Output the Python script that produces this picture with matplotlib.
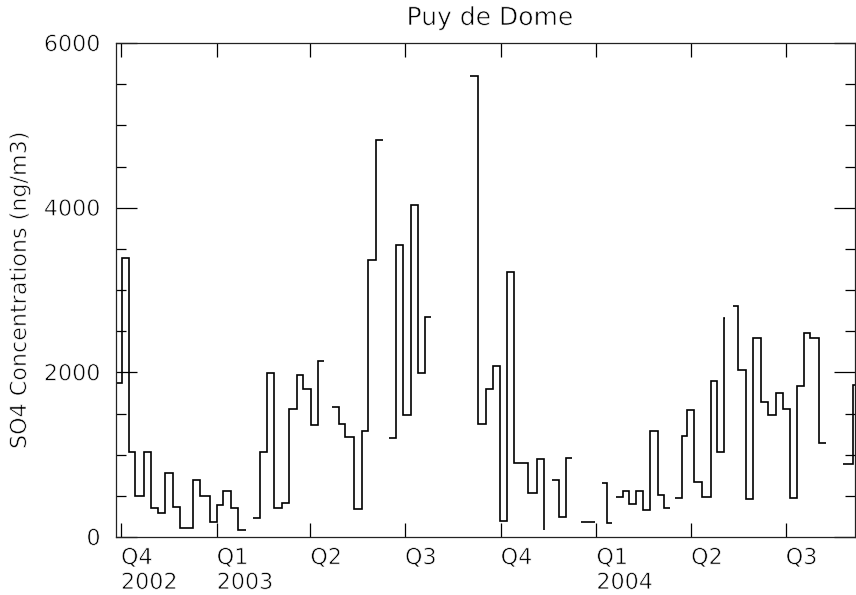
import numpy as np
import pandas as pd
import matplotlib
matplotlib.use('Agg')
import matplotlib.pyplot as plt
import matplotlib.patheffects as pe
from matplotlib.ticker import MultipleLocator

# sample start dates as days after 1 Oct 2002, nan = no data
t0 = pd.Timestamp('2002-10-01')
sample_day = [-6.3, 0.7, 7.7, 13.9, 22.1, 28.6, 35.9, 42.3, 49.7, 56.7, 68.9, 75.9,
              85.5, 92.6, 98.3, 105.5, 112.8, 119.9,
              127.2, 133.6, 140.1, 147.1, 154.5, 161.8, 168.9, 175.3, 182.4, 189.7, 195.4,
              203.1, 209.9, 215.8, 224.0, 231.4, 237.7, 245.1, 251.6,
              257.9, 264.4, 271.4, 278.5, 285.2, 292.3, 297.7,
              335.5, 342.9, 350.6, 357.3, 364.4, 371.4, 377.8, 391.6, 399.6, 406.7, 407.1,
              414.6, 421.1, 427.5, 433.9,
              441.9, 455.7,
              462.1, 466.9, 471.7,
              475.6, 482.9, 488.7, 494.8, 502.1, 508.6, 516.6, 522.0, 527.8,
              532.6, 539.0, 543.8, 550.9, 558.3, 566.9, 572.7, 579.7, 580.2,
              588.1, 593.4, 600.8, 607.9, 614.9, 622.3, 629.4, 636.1, 643.1, 649.6,
              656.9, 662.4, 671.3, 677.8,
              694.4, 704.0]
last_day = 712.0

so4 = [1866, 3390, 1028, 500, 1035, 357, 297, 777, 370, 114, 691, 500,
       187, 386, 553, 357, 85, np.nan,
       228, 1036, 1996, 357, 419, 1557, 1972, 1801, 1366, 2134, np.nan,
       1577, 1374, 1211, 345, 1284, 3366, 4821, np.nan,
       1199, 3541, 1484, 4028, 1996, 2675, np.nan,
       5594, 1374, 1793, 2077, 195, 3223, 894, 533, 950, 85, np.nan,
       691, 248, 960, np.nan,
       187, np.nan,
       655, 167, np.nan,
       488, 553, 406, 561, 329, 1293, 512, 357, np.nan,
       472, 1232, 1545, 671, 480, 1890, 1028, 2660, np.nan,
       2806, 2033, 460, 2411, 1638, 1484, 1748, 1557, 472, 1829,
       2472, 2419, 1138, np.nan,
       887, 1850]

quarters = pd.date_range('2002-10-01', '2004-07-01', freq='QS')
quarter_labels = ['Q4\n2002', 'Q1\n2003', 'Q2', 'Q3', 'Q4', 'Q1\n2004', 'Q2', 'Q3']

plt.rcParams['font.family'] = ['DejaVu Sans']
fs = 16
txt = 'black'
thin = [pe.Stroke(linewidth=0.5, foreground='white')]

fig = plt.figure(figsize=(8.56, 5.95), dpi=100)
ax = fig.add_axes([116/856, 58/595, 739/856, 494/595])

edges = np.append(sample_day, last_day)
ax.stairs(np.array(so4, dtype=float), edges, color='black', lw=1.2, baseline=None)

ax.set_xlim(-4.8, 705.6)
ax.set_ylim(0, 6000)

ax.set_xticks([(q - t0).days for q in quarters])
ax.set_xticklabels(quarter_labels, ha='left', fontsize=fs, color=txt, linespacing=1.3)
ax.yaxis.set_major_locator(MultipleLocator(2000))
ax.yaxis.set_minor_locator(MultipleLocator(500))
ax.tick_params(axis='y', which='major', direction='in', length=15, width=0.9,
               left=True, right=True, labelsize=fs, labelcolor=txt, pad=11)
ax.tick_params(axis='y', which='minor', direction='in', length=7, width=0.9,
               left=True, right=True)
ax.tick_params(axis='x', which='major', direction='in', length=10, width=0.9,
               top=True, bottom=True, labelsize=fs, labelcolor=txt, pad=8)
for s in ax.spines.values():
    s.set_linewidth(0.9)
    s.set_color('#222222')

ax.set_ylabel('SO4 Concentrations (ng/m3)', fontsize=fs, color=txt)
ax.yaxis.set_label_coords(-86/739, 0.5)
title = fig.text(490/856, 1 - 18/595, 'Puy de Dome', ha='center', va='center',
                 fontsize=18, color=txt)

for t in ax.get_xticklabels() + ax.get_yticklabels() + [ax.yaxis.label, title]:
    t.set_path_effects(thin)

fig.savefig('out.png', dpi=100)
